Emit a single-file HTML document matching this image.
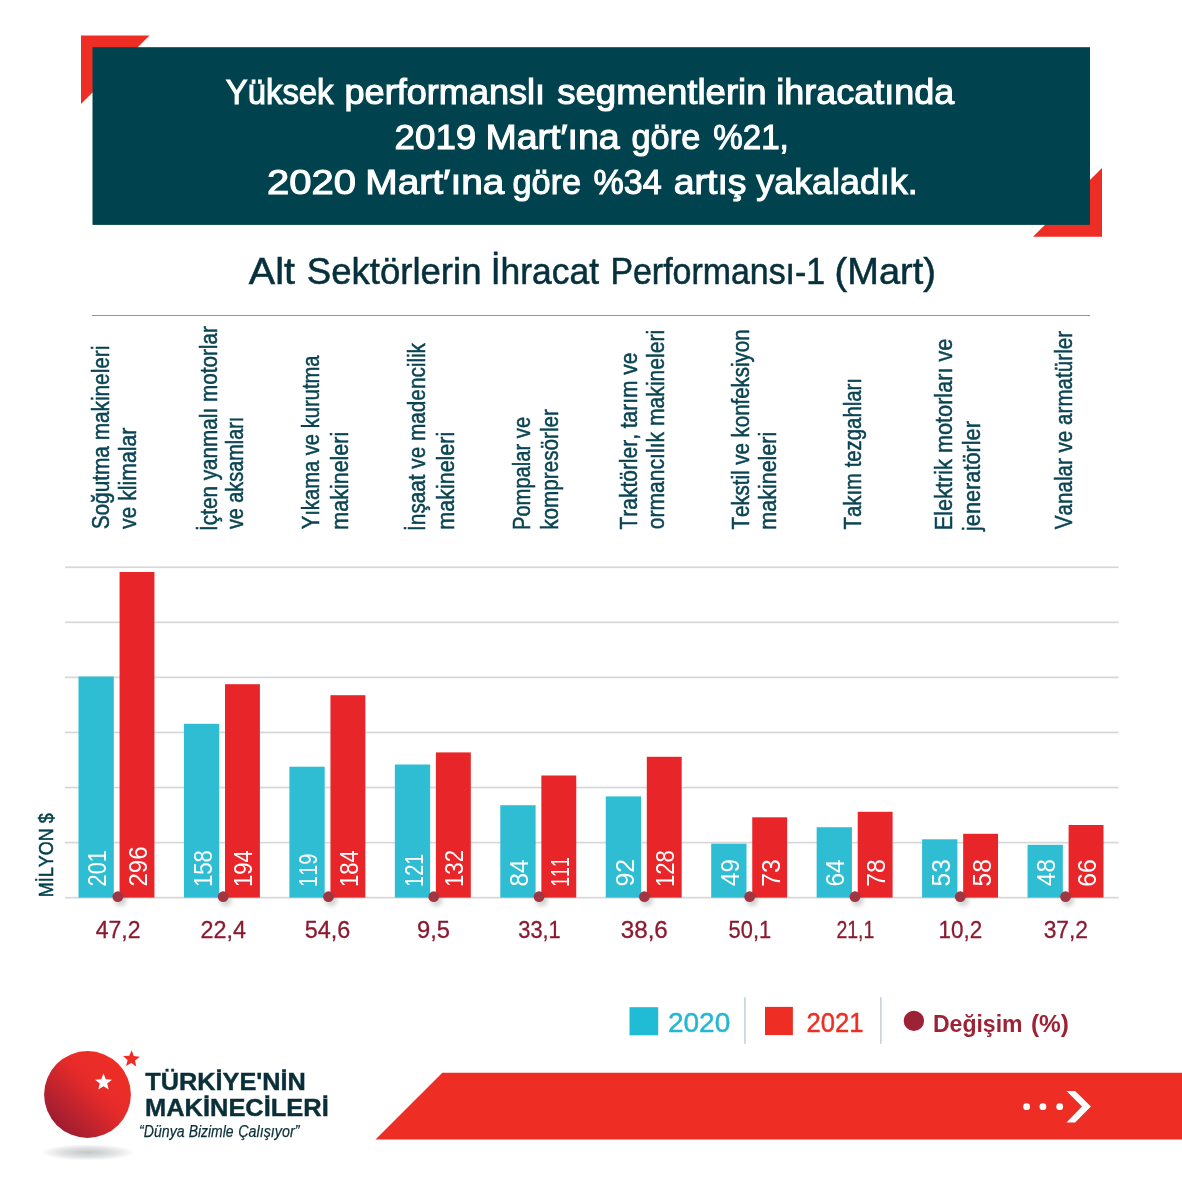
<!DOCTYPE html>
<html lang="tr">
<head>
<meta charset="utf-8">
<title>Alt Sektörlerin İhracat Performansı-1 (Mart)</title>
<style>html,body{margin:0;padding:0;background:#fff}body{width:1182px;height:1182px;overflow:hidden}svg{display:block}text{font-family:"Liberation Sans", "DejaVu Sans", sans-serif;font-kerning:none}</style>
</head>
<body>
<svg width="1182" height="1182" viewBox="0 0 1182 1182">
<defs>
<linearGradient id="ball" x1="0.85" y1="0.15" x2="0.12" y2="0.88"><stop offset="0" stop-color="#ee2e25"/><stop offset="0.4" stop-color="#e52b2a"/><stop offset="1" stop-color="#9a1b31"/></linearGradient>
<radialGradient id="shad" cx="0.5" cy="0.5" r="0.5"><stop offset="0" stop-color="#c6c7c9"/><stop offset="0.55" stop-color="#dfe0e1"/><stop offset="1" stop-color="#ffffff"/></radialGradient>
<filter id="ds" x="-50%" y="-50%" width="200%" height="200%"><feGaussianBlur stdDeviation="2.2"/></filter>
</defs>
<rect width="1182" height="1182" fill="#ffffff"/>
<polygon points="81,35.5 149.5,35.5 81,104" fill="#ee2e24"/>
<polygon points="1102,168 1102,236.8 1033,236.8" fill="#ee2e24"/>
<rect x="92.5" y="47.2" width="997.5" height="177.7" fill="#00434e"/>
<text y="104.3" font-size="35.6" fill="#ffffff" stroke="#ffffff" stroke-width="1.1"><tspan x="225.86" textLength="107.64" lengthAdjust="spacingAndGlyphs">Yüksek</tspan> <tspan x="344.55" textLength="200.58" lengthAdjust="spacingAndGlyphs">performanslı</tspan> <tspan x="557.19" textLength="209.39" lengthAdjust="spacingAndGlyphs">segmentlerin</tspan> <tspan x="776.27" textLength="177.93" lengthAdjust="spacingAndGlyphs">ihracatında</tspan></text>
<text y="148.7" font-size="35.6" fill="#ffffff" stroke="#ffffff" stroke-width="1.1"><tspan x="394.56" textLength="81.70" lengthAdjust="spacingAndGlyphs">2019</tspan> <tspan x="485.50" textLength="134.10" lengthAdjust="spacingAndGlyphs">Mart′ına</tspan> <tspan x="631.54" textLength="68.72" lengthAdjust="spacingAndGlyphs">göre</tspan> <tspan x="713.24" textLength="75.55" lengthAdjust="spacingAndGlyphs">%21,</tspan></text>
<text y="193.85" font-size="35.6" fill="#ffffff" stroke="#ffffff" stroke-width="1.1"><tspan x="267.00" textLength="89.01" lengthAdjust="spacingAndGlyphs">2020</tspan> <tspan x="365.29" textLength="139.21" lengthAdjust="spacingAndGlyphs">Mart′ına</tspan> <tspan x="512.54" textLength="68.62" lengthAdjust="spacingAndGlyphs">göre</tspan> <tspan x="593.51" textLength="68.13" lengthAdjust="spacingAndGlyphs">%34</tspan> <tspan x="673.81" textLength="72.70" lengthAdjust="spacingAndGlyphs">artış</tspan> <tspan x="756.31" textLength="161.42" lengthAdjust="spacingAndGlyphs">yakaladık.</tspan></text>
<text y="284.4" font-size="36.6" fill="#06303b" stroke="#06303b" stroke-width="0.55"><tspan x="248.80" textLength="46.09" lengthAdjust="spacingAndGlyphs">Alt</tspan> <tspan x="306.85" textLength="174.62" lengthAdjust="spacingAndGlyphs">Sektörlerin</tspan> <tspan x="490.72" textLength="108.35" lengthAdjust="spacingAndGlyphs">İhracat</tspan> <tspan x="610.40" textLength="214.81" lengthAdjust="spacingAndGlyphs">Performansı-1</tspan> <tspan x="834.62" textLength="101.25" lengthAdjust="spacingAndGlyphs">(Mart)</tspan></text>
<rect x="92" y="315" width="998" height="1" fill="#7b9ca5"/>
<rect x="65" y="566.40" width="1053.5" height="1.7" fill="#d7d7d7"/>
<rect x="65" y="621.47" width="1053.5" height="1.7" fill="#d7d7d7"/>
<rect x="65" y="676.54" width="1053.5" height="1.7" fill="#d7d7d7"/>
<rect x="65" y="731.61" width="1053.5" height="1.7" fill="#d7d7d7"/>
<rect x="65" y="786.68" width="1053.5" height="1.7" fill="#d7d7d7"/>
<rect x="65" y="841.75" width="1053.5" height="1.7" fill="#d7d7d7"/>
<rect x="65" y="896.82" width="1053.5" height="1.7" fill="#d7d7d7"/>
<text transform="translate(108.85,529.34) rotate(-90)" font-size="23.3" fill="#0a4453" textLength="183.74" lengthAdjust="spacingAndGlyphs" stroke="#0a4453" stroke-width="0.5">Soğutma makineleri</text>
<text transform="translate(135.55,529.11) rotate(-90)" font-size="23.3" fill="#0a4453" textLength="101.42" lengthAdjust="spacingAndGlyphs" stroke="#0a4453" stroke-width="0.5">ve klimalar</text>
<text transform="translate(216.55,530.92) rotate(-90)" font-size="23.3" fill="#0a4453" textLength="204.73" lengthAdjust="spacingAndGlyphs" stroke="#0a4453" stroke-width="0.5">İçten yanmalı motorlar</text>
<text transform="translate(242.95,529.10) rotate(-90)" font-size="23.3" fill="#0a4453" textLength="112.38" lengthAdjust="spacingAndGlyphs" stroke="#0a4453" stroke-width="0.5">ve aksamları</text>
<text transform="translate(319.45,529.25) rotate(-90)" font-size="23.3" fill="#0a4453" textLength="173.85" lengthAdjust="spacingAndGlyphs" stroke="#0a4453" stroke-width="0.5">Yıkama ve kurutma</text>
<text transform="translate(347.95,529.65) rotate(-90)" font-size="23.3" fill="#0a4453" textLength="97.90" lengthAdjust="spacingAndGlyphs" stroke="#0a4453" stroke-width="0.5">makineleri</text>
<text transform="translate(424.75,530.92) rotate(-90)" font-size="23.3" fill="#0a4453" textLength="187.92" lengthAdjust="spacingAndGlyphs" stroke="#0a4453" stroke-width="0.5">İnşaat ve madencilik</text>
<text transform="translate(453.55,529.65) rotate(-90)" font-size="23.3" fill="#0a4453" textLength="97.90" lengthAdjust="spacingAndGlyphs" stroke="#0a4453" stroke-width="0.5">makineleri</text>
<text transform="translate(530.35,530.07) rotate(-90)" font-size="23.3" fill="#0a4453" textLength="113.22" lengthAdjust="spacingAndGlyphs" stroke="#0a4453" stroke-width="0.5">Pompalar ve</text>
<text transform="translate(557.65,529.80) rotate(-90)" font-size="23.3" fill="#0a4453" textLength="120.81" lengthAdjust="spacingAndGlyphs" stroke="#0a4453" stroke-width="0.5">kompresörler</text>
<text transform="translate(636.75,529.47) rotate(-90)" font-size="23.3" fill="#0a4453" textLength="176.89" lengthAdjust="spacingAndGlyphs" stroke="#0a4453" stroke-width="0.5">Traktörler, tarım ve</text>
<text transform="translate(664.35,529.30) rotate(-90)" font-size="23.3" fill="#0a4453" textLength="199.53" lengthAdjust="spacingAndGlyphs" stroke="#0a4453" stroke-width="0.5">ormancılık makineleri</text>
<text transform="translate(748.55,529.46) rotate(-90)" font-size="23.3" fill="#0a4453" textLength="200.01" lengthAdjust="spacingAndGlyphs" stroke="#0a4453" stroke-width="0.5">Tekstil ve konfeksiyon</text>
<text transform="translate(775.65,529.65) rotate(-90)" font-size="23.3" fill="#0a4453" textLength="97.90" lengthAdjust="spacingAndGlyphs" stroke="#0a4453" stroke-width="0.5">makineleri</text>
<text transform="translate(860.75,529.46) rotate(-90)" font-size="23.3" fill="#0a4453" textLength="151.41" lengthAdjust="spacingAndGlyphs" stroke="#0a4453" stroke-width="0.5">Takım tezgahları</text>
<text transform="translate(951.85,530.19) rotate(-90)" font-size="23.3" fill="#0a4453" textLength="191.61" lengthAdjust="spacingAndGlyphs" stroke="#0a4453" stroke-width="0.5">Elektrik motorları ve</text>
<text transform="translate(979.75,530.96) rotate(-90)" font-size="23.3" fill="#0a4453" textLength="109.88" lengthAdjust="spacingAndGlyphs" stroke="#0a4453" stroke-width="0.5">jeneratörler</text>
<text transform="translate(1071.95,529.30) rotate(-90)" font-size="23.3" fill="#0a4453" textLength="198.39" lengthAdjust="spacingAndGlyphs" stroke="#0a4453" stroke-width="0.5">Vanalar ve armatürler</text>
<rect x="78.50" y="676.50" width="35.3" height="221.10" fill="#2fbdd4"/>
<rect x="119.55" y="572.00" width="34.9" height="325.60" fill="#e8262a"/>
<rect x="183.95" y="723.80" width="35.3" height="173.80" fill="#2fbdd4"/>
<rect x="225.00" y="684.20" width="34.9" height="213.40" fill="#e8262a"/>
<rect x="289.40" y="766.70" width="35.3" height="130.90" fill="#2fbdd4"/>
<rect x="330.45" y="695.20" width="34.9" height="202.40" fill="#e8262a"/>
<rect x="394.85" y="764.50" width="35.3" height="133.10" fill="#2fbdd4"/>
<rect x="435.90" y="752.40" width="34.9" height="145.20" fill="#e8262a"/>
<rect x="500.30" y="805.20" width="35.3" height="92.40" fill="#2fbdd4"/>
<rect x="541.35" y="775.50" width="34.9" height="122.10" fill="#e8262a"/>
<rect x="605.75" y="796.40" width="35.3" height="101.20" fill="#2fbdd4"/>
<rect x="646.80" y="756.80" width="34.9" height="140.80" fill="#e8262a"/>
<rect x="711.20" y="843.70" width="35.3" height="53.90" fill="#2fbdd4"/>
<rect x="752.25" y="817.30" width="34.9" height="80.30" fill="#e8262a"/>
<rect x="816.65" y="827.20" width="35.3" height="70.40" fill="#2fbdd4"/>
<rect x="857.70" y="811.80" width="34.9" height="85.80" fill="#e8262a"/>
<rect x="922.10" y="839.30" width="35.3" height="58.30" fill="#2fbdd4"/>
<rect x="963.15" y="833.80" width="34.9" height="63.80" fill="#e8262a"/>
<rect x="1027.55" y="844.80" width="35.3" height="52.80" fill="#2fbdd4"/>
<rect x="1068.60" y="825.00" width="34.9" height="72.60" fill="#e8262a"/>
<text transform="translate(106.25,886.50) rotate(-90)" font-size="26" fill="#ffffff" textLength="36.54" lengthAdjust="spacingAndGlyphs">201</text>
<text transform="translate(147.00,886.61) rotate(-90)" font-size="26" fill="#ffffff" textLength="40.18" lengthAdjust="spacingAndGlyphs">296</text>
<text transform="translate(211.70,887.07) rotate(-90)" font-size="26" fill="#ffffff" textLength="37.01" lengthAdjust="spacingAndGlyphs">158</text>
<text transform="translate(252.45,887.05) rotate(-90)" font-size="26" fill="#ffffff" textLength="36.66" lengthAdjust="spacingAndGlyphs">194</text>
<text transform="translate(317.15,886.90) rotate(-90)" font-size="26" fill="#ffffff" textLength="33.22" lengthAdjust="spacingAndGlyphs">119</text>
<text transform="translate(357.90,887.05) rotate(-90)" font-size="26" fill="#ffffff" textLength="36.66" lengthAdjust="spacingAndGlyphs">184</text>
<text transform="translate(422.60,886.90) rotate(-90)" font-size="26" fill="#ffffff" textLength="33.30" lengthAdjust="spacingAndGlyphs">121</text>
<text transform="translate(463.35,887.08) rotate(-90)" font-size="26" fill="#ffffff" textLength="37.19" lengthAdjust="spacingAndGlyphs">132</text>
<text transform="translate(528.05,886.43) rotate(-90)" font-size="26" fill="#ffffff" textLength="26.90" lengthAdjust="spacingAndGlyphs">84</text>
<text transform="translate(568.80,886.73) rotate(-90)" font-size="26" fill="#ffffff" textLength="29.47" lengthAdjust="spacingAndGlyphs">111</text>
<text transform="translate(633.50,886.58) rotate(-90)" font-size="26" fill="#ffffff" textLength="27.63" lengthAdjust="spacingAndGlyphs">92</text>
<text transform="translate(674.25,887.07) rotate(-90)" font-size="26" fill="#ffffff" textLength="37.01" lengthAdjust="spacingAndGlyphs">128</text>
<text transform="translate(738.95,885.94) rotate(-90)" font-size="26" fill="#ffffff" textLength="26.83" lengthAdjust="spacingAndGlyphs">49</text>
<text transform="translate(779.70,886.70) rotate(-90)" font-size="26" fill="#ffffff" textLength="27.56" lengthAdjust="spacingAndGlyphs">73</text>
<text transform="translate(844.40,886.62) rotate(-90)" font-size="26" fill="#ffffff" textLength="27.09" lengthAdjust="spacingAndGlyphs">64</text>
<text transform="translate(885.15,886.70) rotate(-90)" font-size="26" fill="#ffffff" textLength="27.56" lengthAdjust="spacingAndGlyphs">78</text>
<text transform="translate(949.85,886.38) rotate(-90)" font-size="26" fill="#ffffff" textLength="27.22" lengthAdjust="spacingAndGlyphs">53</text>
<text transform="translate(990.60,886.38) rotate(-90)" font-size="26" fill="#ffffff" textLength="27.22" lengthAdjust="spacingAndGlyphs">58</text>
<text transform="translate(1055.30,885.94) rotate(-90)" font-size="26" fill="#ffffff" textLength="26.77" lengthAdjust="spacingAndGlyphs">48</text>
<text transform="translate(1096.05,886.64) rotate(-90)" font-size="26" fill="#ffffff" textLength="27.49" lengthAdjust="spacingAndGlyphs">66</text>
<circle cx="120.4" cy="900.3" r="6" fill="#444" opacity="0.24" filter="url(#ds)"/>
<circle cx="117.85" cy="896.7" r="5.35" fill="#a03642"/>
<text y="937.7" font-size="24.2" fill="#8a1a30" stroke="#8a1a30" stroke-width="0.3"><tspan x="95.78" textLength="44.77" lengthAdjust="spacingAndGlyphs">47,2</tspan></text>
<circle cx="225.7" cy="900.3" r="6" fill="#444" opacity="0.24" filter="url(#ds)"/>
<circle cx="223.15" cy="896.7" r="5.35" fill="#a03642"/>
<text y="937.7" font-size="24.2" fill="#8a1a30" stroke="#8a1a30" stroke-width="0.3"><tspan x="200.43" textLength="45.52" lengthAdjust="spacingAndGlyphs">22,4</tspan></text>
<circle cx="331.1" cy="900.3" r="6" fill="#444" opacity="0.24" filter="url(#ds)"/>
<circle cx="328.45" cy="896.7" r="5.35" fill="#a03642"/>
<text y="937.7" font-size="24.2" fill="#8a1a30" stroke="#8a1a30" stroke-width="0.3"><tspan x="304.76" textLength="45.53" lengthAdjust="spacingAndGlyphs">54,6</tspan></text>
<circle cx="436.4" cy="900.3" r="6" fill="#444" opacity="0.24" filter="url(#ds)"/>
<circle cx="433.75" cy="896.7" r="5.35" fill="#a03642"/>
<text y="937.7" font-size="24.2" fill="#8a1a30" stroke="#8a1a30" stroke-width="0.3"><tspan x="416.97" textLength="32.98" lengthAdjust="spacingAndGlyphs">9,5</tspan></text>
<circle cx="541.6" cy="900.3" r="6" fill="#444" opacity="0.24" filter="url(#ds)"/>
<circle cx="539.05" cy="896.7" r="5.35" fill="#a03642"/>
<text y="937.7" font-size="24.2" fill="#8a1a30" stroke="#8a1a30" stroke-width="0.3"><tspan x="518.28" textLength="42.46" lengthAdjust="spacingAndGlyphs">33,1</tspan></text>
<circle cx="647.0" cy="900.3" r="6" fill="#444" opacity="0.24" filter="url(#ds)"/>
<circle cx="644.35" cy="896.7" r="5.35" fill="#a03642"/>
<text y="937.7" font-size="24.2" fill="#8a1a30" stroke="#8a1a30" stroke-width="0.3"><tspan x="620.69" textLength="47.14" lengthAdjust="spacingAndGlyphs">38,6</tspan></text>
<circle cx="752.2" cy="900.3" r="6" fill="#444" opacity="0.24" filter="url(#ds)"/>
<circle cx="749.65" cy="896.7" r="5.35" fill="#a03642"/>
<text y="937.7" font-size="24.2" fill="#8a1a30" stroke="#8a1a30" stroke-width="0.3"><tspan x="728.62" textLength="42.52" lengthAdjust="spacingAndGlyphs">50,1</tspan></text>
<circle cx="857.6" cy="900.3" r="6" fill="#444" opacity="0.24" filter="url(#ds)"/>
<circle cx="854.95" cy="896.7" r="5.35" fill="#a03642"/>
<text y="937.7" font-size="24.2" fill="#8a1a30" stroke="#8a1a30" stroke-width="0.3"><tspan x="836.42" textLength="37.90" lengthAdjust="spacingAndGlyphs">21,1</tspan></text>
<circle cx="962.9" cy="900.3" r="6" fill="#444" opacity="0.24" filter="url(#ds)"/>
<circle cx="960.25" cy="896.7" r="5.35" fill="#a03642"/>
<text y="937.7" font-size="24.2" fill="#8a1a30" stroke="#8a1a30" stroke-width="0.3"><tspan x="938.52" textLength="43.61" lengthAdjust="spacingAndGlyphs">10,2</tspan></text>
<circle cx="1068.1" cy="900.3" r="6" fill="#444" opacity="0.24" filter="url(#ds)"/>
<circle cx="1065.55" cy="896.7" r="5.35" fill="#a03642"/>
<text y="937.7" font-size="24.2" fill="#8a1a30" stroke="#8a1a30" stroke-width="0.3"><tspan x="1043.64" textLength="44.40" lengthAdjust="spacingAndGlyphs">37,2</tspan></text>
<text transform="translate(52.80,897.18) rotate(-90)" font-size="20.2" fill="#033f4b" textLength="83.93" lengthAdjust="spacingAndGlyphs" stroke="#033f4b" stroke-width="0.55">MİLYON $</text>
<rect x="629.5" y="1007.2" width="28.7" height="28.1" fill="#20bcd6"/>
<text y="1032.2" font-size="27.6" fill="#25b7d1" stroke="#25b7d1" stroke-width="0.45"><tspan x="667.90" textLength="62.36" lengthAdjust="spacingAndGlyphs">2020</tspan></text>
<rect x="744.2" y="997.2" width="1.5" height="46.6" fill="#c3d0d3"/>
<rect x="765" y="1006.9" width="27.9" height="28.2" fill="#ee2e24"/>
<text y="1032.2" font-size="27.6" fill="#ee2e24" stroke="#ee2e24" stroke-width="0.45"><tspan x="806.52" textLength="57.00" lengthAdjust="spacingAndGlyphs">2021</tspan></text>
<rect x="880.1" y="997.2" width="1.5" height="46.6" fill="#c3d0d3"/>
<circle cx="913.9" cy="1020.9" r="10.2" fill="#9e2236"/>
<text y="1031.5" font-size="24.4" fill="#9e2236" font-weight="bold"><tspan x="932.94" textLength="89.60" lengthAdjust="spacingAndGlyphs">Değişim</tspan> <tspan x="1030.88" textLength="38.05" lengthAdjust="spacingAndGlyphs">(%)</tspan></text>
<polygon points="442.3,1072.8 1182,1072.8 1182,1139.6 375.5,1139.6" fill="#ee2e24"/>
<circle cx="1026.6" cy="1106.7" r="3.4" fill="#ffffff"/>
<circle cx="1042.9" cy="1106.7" r="3.4" fill="#ffffff"/>
<circle cx="1059.7" cy="1106.7" r="3.4" fill="#ffffff"/>
<polygon points="1066.5,1091 1075.1,1091 1090.9,1106.6 1075.1,1122.4 1066.5,1122.4 1082,1106.6" fill="#ffffff"/>
<ellipse cx="87.7" cy="1152.4" rx="47" ry="8.2" fill="url(#shad)"/>
<circle cx="87.5" cy="1094.5" r="43.4" fill="url(#ball)"/>
<polygon points="103.50,1073.50 105.79,1079.24 111.96,1079.65 107.21,1083.61 108.73,1089.60 103.50,1086.30 98.27,1089.60 99.79,1083.61 95.04,1079.65 101.21,1079.24" fill="#ffffff"/>
<polygon points="131.71,1050.31 133.80,1056.03 139.86,1056.67 135.06,1060.43 136.32,1066.40 131.26,1063.00 125.98,1066.03 127.65,1060.17 123.13,1056.09 129.22,1055.87" fill="#ee2e24"/>
<text y="1090.4" font-size="23.2" fill="#0b2f39" font-weight="bold" stroke="#0b2f39" stroke-width="0.4"><tspan x="145.25" textLength="160.66" lengthAdjust="spacingAndGlyphs">TÜRKİYE'NİN</tspan></text>
<text y="1116.3" font-size="23.2" fill="#0b2f39" font-weight="bold" stroke="#0b2f39" stroke-width="0.4"><tspan x="145.08" textLength="183.63" lengthAdjust="spacingAndGlyphs">MAKİNECİLERİ</tspan></text>
<text y="1137.4" font-size="17.3" fill="#0b2f39" font-style="italic" stroke="#0b2f39" stroke-width="0.25"><tspan x="139.08" textLength="45.48" lengthAdjust="spacingAndGlyphs">“Dünya</tspan> <tspan x="188.68" textLength="44.91" lengthAdjust="spacingAndGlyphs">Bizimle</tspan> <tspan x="238.31" textLength="61.15" lengthAdjust="spacingAndGlyphs">Çalışıyor”</tspan></text>
</svg>
</body>
</html>
